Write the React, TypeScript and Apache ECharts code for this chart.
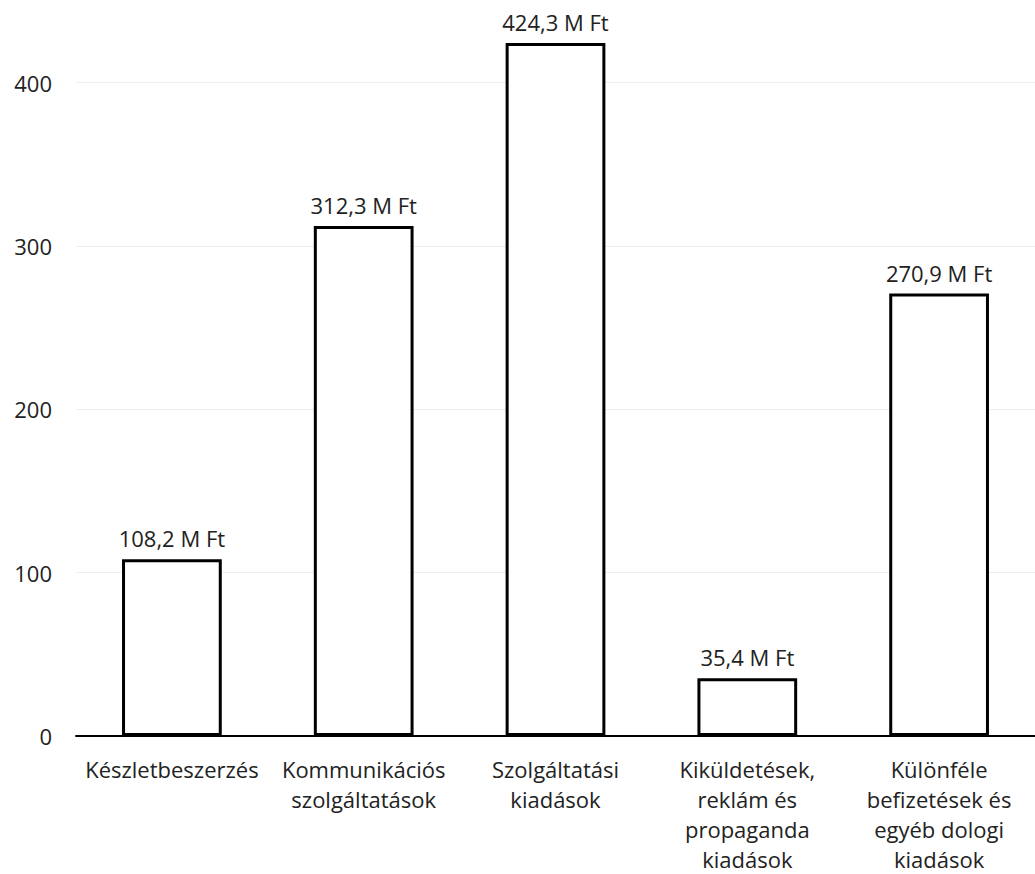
import React, { useEffect, useRef } from "react";
import * as echarts from "echarts";

const categories = [
  "Készletbeszerzés",
  "Kommunikációs\nszolgáltatások",
  "Szolgáltatási\nkiadások",
  "Kiküldetések,\nreklám és\npropaganda\nkiadások",
  "Különféle\nbefizetések és\negyéb dologi\nkiadások",
];
const values = [108.2, 312.3, 424.3, 35.4, 270.9];
const yTicks = [0, 100, 200, 300, 400];

export default function App() {
  const ref = useRef<HTMLDivElement>(null);
  useEffect(() => {
    const chart = echarts.init(ref.current!, null, { renderer: "svg" });
    const font = "'Open Sans', sans-serif";
    chart.setOption({
      animation: false,
      grid: { left: 76, right: -4, top: 1, bottom: 135, containLabel: false },
      xAxis: {
        type: "category",
        data: categories,
        axisLine: { lineStyle: { color: "#000", width: 2 } },
        axisTick: { show: false },
        axisLabel: {
          interval: 0,
          color: "#222",
          fontFamily: font,
          fontSize: 22,
          lineHeight: 30,
          margin: 18,
          align: "center",
        },
      },
      yAxis: {
        type: "value",
        min: yTicks[0],
        max: 450,
        interval: 100,
        axisLine: { show: false },
        axisTick: { show: false },
        splitLine: { lineStyle: { color: "#eeeeee", width: 1 }, showMaxLine: false },
        axisLabel: {
          color: "#222",
          fontFamily: font,
          fontSize: 22,
          margin: 24,
          showMaxLabel: false,
        },
      },
      series: [
        {
          type: "bar",
          data: values,
          barWidth: "52%",
          itemStyle: { color: "#fff", borderColor: "#000", borderWidth: 3 },
          label: {
            show: true,
            position: "top",
            distance: 10,
            color: "#222",
            fontFamily: font,
            fontSize: 22,
            formatter: (p: any) => p.value.toFixed(1).replace(".", ",") + " M Ft",
          },
        },
      ],
    });
    return () => chart.dispose();
  }, []);
  return (
    <div
      ref={ref}
      style={{ position: "absolute", left: 0, top: 0, width: 1035, height: 874 }}
    />
  );
}
